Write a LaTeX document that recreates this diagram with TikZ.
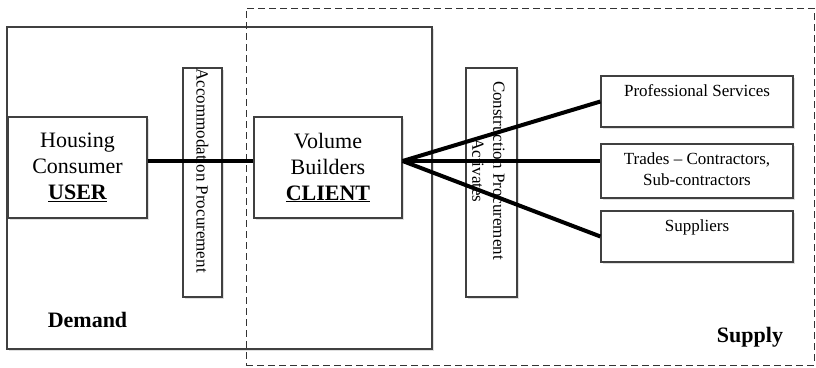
\documentclass[tikz,border=0pt]{standalone}
\usepackage{fontspec}
\setmainfont{Liberation Serif}
\usepackage{tikz}
\usetikzlibrary{shadows}
\tikzset{box/.style={draw=black!75,line width=1.2pt,fill=white,
  drop shadow={shadow xshift=2pt,shadow yshift=-2pt,opacity=.25}},
 zone/.style={draw=black!80,line width=1pt,dash pattern=on 7pt off 4pt},
 link/.style={draw=black,line width=4pt},
 big/.style={font=\fontsize{22}{26}\selectfont,align=center},
 small/.style={font=\fontsize{17}{21}\selectfont,align=center},
 title/.style={font=\fontsize{22}{26}\selectfont\bfseries},
 }

\begin{document}
\begin{tikzpicture}[x=1pt,y=-1pt]
        \useasboundingbox (0,0) rectangle (816,367);
        \node[box,minimum width=425pt,minimum height=322pt] (demand) at (219.5,188) {};
        \node[zone,minimum width=568pt,minimum height=357pt] (supply) at (530,186.5) {};

        \node[box,big,minimum width=139pt,minimum height=101pt] (consumer) at (77.5,167.5) {Housing\\Consumer\\\textbf{\underline{USER}}};
        \node[box,minimum width=39pt,minimum height=229pt] (accom) at (202.5,182.5) {};
        \node[small,rotate=-90] (accomtext) at (202.5,170.5) {Accommodation Procurement};
        \node[box,big,minimum width=148pt,minimum height=101pt] (builders) at (328,167.5) {Volume\\Builders\\\textbf{\underline{CLIENT}}};
        \node[box,minimum width=51pt,minimum height=229pt] (constr) at (491.5,182.5) {};
        \node[small,rotate=-90] (constrtext) at (488.5,170.5) {Construction Procurement\\Activates};

        \node[box,minimum width=192pt,minimum height=51pt,
          label={[small,anchor=north,yshift=-6pt]north:Professional Services}] (prof) at (697,101.5) {};
        \node[box,minimum width=192pt,minimum height=54pt,
          label={[small,anchor=north,yshift=-6pt]north:Trades -- Contractors,\\Sub-contractors}] (trades) at (697,171) {};
        \node[box,minimum width=192pt,minimum height=51pt,
          label={[small,anchor=north,yshift=-6pt]north:Suppliers}] (suppl) at (697,236.5) {};

        \coordinate (hub) at ([yshift=6.5pt]builders.east);
        \draw[link] ([yshift=6.5pt]consumer.east) -- ([yshift=6.5pt]builders.west);
        \draw[link] (hub) -- (prof.west);
        \draw[link] (hub) -- ([yshift=10pt]trades.west);
        \draw[link] (hub) -- (suppl.west);

        \node[title] (demandtext) at (87.5,320) {Demand};
        \node[title] (supplytext) at (750,337) {Supply};
    \end{tikzpicture}
\end{document}
